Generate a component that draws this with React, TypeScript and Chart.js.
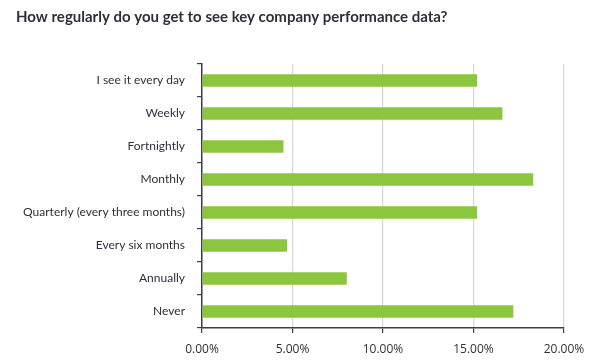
import React, { useEffect, useRef } from "react";
import { Chart, registerables } from "chart.js";

Chart.register(...registerables);

const TITLE = "How regularly do you get to see key company performance data?";
const categories = [
  "I see it every day",
  "Weekly",
  "Fortnightly",
  "Monthly",
  "Quarterly (every three months)",
  "Every six months",
  "Annually",
  "Never",
];
const percentages = [15.2, 16.6, 4.5, 18.3, 15.2, 4.7, 8.0, 17.2];
const xMin = 0;
const xMax = 20;
const xStep = 5;

export default function App() {
  const ref = useRef<HTMLCanvasElement | null>(null);

  useEffect(() => {
    document.body.style.margin = "0";
    const ctx = ref.current;
    if (!ctx) return;
    const chart = new Chart(ctx, {
      type: "bar",
      data: {
        labels: categories,
        datasets: [
          {
            data: percentages,
            backgroundColor: "#8cc63f",
            borderWidth: 0,
            categoryPercentage: 1,
            barPercentage: 0.38,
          },
        ],
      },
      options: {
        indexAxis: "y",
        animation: false,
        responsive: false,
        maintainAspectRatio: false,
        layout: { padding: { left: 16, right: 36, top: 0, bottom: 0 } },
        plugins: {
          legend: { display: false },
          tooltip: { enabled: false },
          title: {
            display: true,
            text: TITLE,
            align: "start",
            color: "#2f2f3b",
            font: { family: "Lato", size: 15, weight: "bold", lineHeight: 1.2 },
            padding: { top: 8, bottom: 38 },
          },
        },
        scales: {
          x: {
            min: xMin,
            max: xMax,
            ticks: {
              stepSize: xStep,
              color: "#2f2f3b",
              font: { family: "Open Sans", size: 12 },
              padding: 9,
              callback: (v: any) => Number(v).toFixed(2) + "%",
            },
            grid: {
              color: "#d6d6d6",
              lineWidth: 1.2,
              tickColor: "#3c3c50",
              tickLength: 5,
            },
            border: { color: "#3c3c50", width: 1.5 },
            afterFit: (scale: any) => {
              scale.height = 34;
            },
          },
          y: {
            ticks: {
              color: "#2f2f3b",
              font: { family: "Lato", size: 12 },
              padding: 12,
            },
            grid: {
              drawOnChartArea: false,
              color: "#3c3c50",
              tickColor: "#3c3c50",
              tickLength: 5,
              lineWidth: 1.2,
            },
            border: { color: "#3c3c50", width: 1.5 },
            afterFit: (scale: any) => {
              scale.width = 186;
            },
          },
        },
      },
    });
    return () => chart.destroy();
  }, []);

  return (
    <div style={{ width: 600, height: 362, background: "#ffffff" }}>
      <canvas ref={ref} width={600} height={362} />
    </div>
  );
}
